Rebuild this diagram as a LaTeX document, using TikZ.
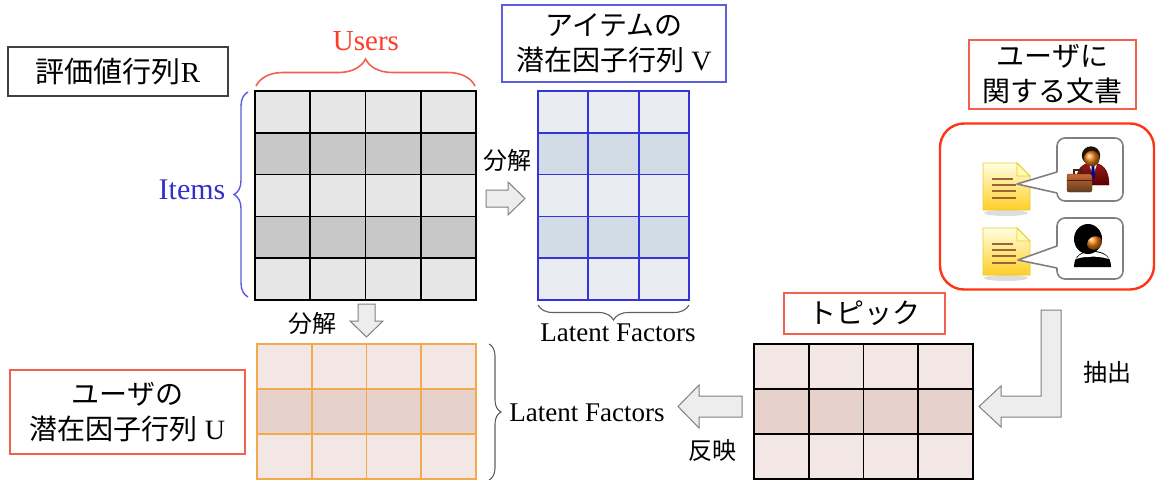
\documentclass[tikz,border=0pt]{standalone}
\usepackage{fontspec}
\setmainfont{Liberation Serif}
\newfontfamily\jp{Noto Sans CJK JP}
\usetikzlibrary{decorations.pathreplacing}

\definecolor{redtxt}{HTML}{FF3B2A}
\definecolor{redline}{HTML}{F2604E}
\definecolor{docred}{HTML}{FF3414}
\definecolor{bluetxt}{HTML}{3232C8}
\definecolor{blueline}{HTML}{3434D8}
\definecolor{bluebrace}{HTML}{5A5AE0}
\definecolor{vlight}{HTML}{E9EDF2}
\definecolor{vdark}{HTML}{D2DCE6}
\definecolor{rlight}{HTML}{E6E6E6}
\definecolor{rdark}{HTML}{C8C8C8}
\definecolor{plight}{HTML}{F3E7E5}
\definecolor{pdark}{HTML}{E7D1CB}
\definecolor{orangeline}{HTML}{F5A94E}
\definecolor{arrowfill}{HTML}{EDEDED}
\definecolor{arrowline}{HTML}{808080}
\definecolor{bracegray}{HTML}{5F5F5F}

% grid of cells: x0, y0, cell width, cell height, columns, rows, light, dark, line style
\newcommand\matgrid[9]{%
  \foreach \r in {1,...,#6}{%
    \ifodd\r \def\mcol{#7}\else \def\mcol{#8}\fi
    \fill[\mcol] ({#1},{#2+(\r-1)*#4}) rectangle ++({#5*#3},{#4});
  }
  \foreach \c in {0,...,#5}
    \draw[#9, line cap=rect] ({#1+\c*#3},{#2}) -- ++(0,{#6*#4});
  \foreach \r in {0,...,#6}
    \draw[#9, line cap=rect] ({#1},{#2+\r*#4}) -- ++({#5*#3},0);
}

% yellow document sheet, top-left corner at (#1,#2)
\newcommand\docsheet[2]{%
  \begin{scope}[shift={(#1,#2)}]
    \fill[gray!45, opacity=0.6] (23,50) ellipse [x radius=22, y radius=3];
    \shade[top color=yellow!12, bottom color=yellow!55!orange!85, draw=yellow!60!brown, line width=0.8]
      (0,0) -- (34,0) -- (47,13) -- (47,47) -- (0,47) -- cycle;
    \fill[yellow!30, draw=yellow!60!brown, line width=0.8] (34,0) -- (34,13) -- (47,13) -- cycle;
    \draw[brown!80!black, line width=1.6] (9,16) -- (30,16) (9,22) -- (33,22) (9,28) -- (33,28) (9,35) -- (33,35);
  \end{scope}}

% speech bubble: x0, y0, x1, y1, tip x, tip y, upper y, lower y
\newcommand\callout[8]{%
  \draw[arrowline, line width=1.6, fill=white, rounded corners=8] (#1,#2) rectangle (#3,#4);
  \fill[white] ({#1+1.5},#7) -- (#5,#6) -- ({#1+1.5},#8) -- cycle;
  \draw[arrowline, line width=1.6, line join=round] (#1,#7) -- (#5,#6) -- (#1,#8);
}

\begin{document}
\begin{tikzpicture}[x=1pt, y=-1pt,
  labelbox/.style={line width=1.3, inner sep=0, align=center, font=\fontsize{28}{35}\selectfont},
  serifl/.style={font=\fontsize{27}{32}\selectfont, inner sep=0},
  jpverb/.style={font=\jp\fontsize{24}{28}\selectfont, inner sep=0},
  blockarrow/.style={fill=arrowfill, draw=arrowline, line width=1, line join=miter},
  bracedeco/.style={decorate, decoration={brace, amplitude=#1}},
]
\useasboundingbox (0,0) rectangle (1156,479);

% ---------- rating matrix R ----------
\node[labelbox, draw=black!75, minimum width=220, minimum height=49] (rlab) at (118,71.5)
  {\fontsize{29}{35}\selectfont{\jp 評価値行列}R};
\coordinate (R) at (255,91);
\matgrid{255}{91}{55.25}{41.8}{4}{5}{rlight}{rdark}{black, line width=1.7}

% users brace and label
\draw[redline, line width=1.6, bracedeco=27] (256,86) -- (475,86);
\node[serifl, text=redtxt, font=\fontsize{29}{32}\selectfont] (users) at (366,41) {Users};

% items brace and label
\draw[bluebrace, line width=1.4, bracedeco=14] (248,297) -- (248,92);
\node[serifl, text=bluetxt, font=\fontsize{30}{32}\selectfont] (items) at (192,190) {Items};

% ---------- item factor matrix V ----------
\node[labelbox, draw=blueline!80, minimum width=224, minimum height=77] (vlab) at (614,43.5)
  {{\jp アイテムの}\\{\jp 潜在因子行列} V};
\coordinate (V) at (538,91);
\matgrid{538}{91}{50.33}{41.8}{3}{5}{vlight}{vdark}{blueline, line width=1.7}
\draw[bracegray, line width=1.1, bracedeco=15] (689,305) -- (538,305);
\node[serifl] (lfv) at (618,333) {Latent Factors};

% decomposition R -> V
\node[jpverb] (dec1) at (507,160) {分解};
\draw[blockarrow] (486,190) -- (508,190) -- (508,182) -- (525,198.5) -- (508,215) -- (508,207) -- (486,207) -- cycle;

% decomposition R -> U
\node[jpverb] (dec2) at (312,323) {分解};
\draw[blockarrow] (358,304) -- (375,304) -- (375,321) -- (383,321) -- (366.5,337) -- (350,321) -- (358,321) -- cycle;

% ---------- user factor matrix U ----------
\node[labelbox, draw=redline, minimum width=235, minimum height=84] (ulab) at (127.5,412)
  {{\jp ユーザの}\\{\jp 潜在因子行列} U};
\coordinate (U) at (257,344);
\matgrid{257}{344}{54.75}{45}{4}{3}{plight}{pdark}{orangeline, line width=1.7}
\draw[bracegray, line width=1.1, bracedeco=12] (489,344) -- (489,480);
\node[serifl] (lfu) at (587,413) {Latent Factors};

% ---------- topic matrix ----------
\node[labelbox, draw=redline, minimum width=161, minimum height=41] (tlab) at (864.5,313.5)
  {\jp トピック};
\coordinate (T) at (754,344);
\matgrid{754}{344}{54.75}{45}{4}{3}{plight}{pdark}{black, line width=1.7}

% reflect topics into U
\draw[blockarrow] (742,396) -- (699,396) -- (699,385) -- (678,406.5) -- (699,428) -- (699,417) -- (742,417) -- cycle;
\node[jpverb] (refl) at (712,450) {反映};

% extract topics from documents
\draw[blockarrow] (1041,310) -- (1061,310) -- (1061,417) -- (1001,417) -- (1001,427) -- (979,406.5)
  -- (1001,386) -- (1001,396) -- (1041,396) -- cycle;
\node[jpverb] (extr) at (1107,372) {抽出};

% ---------- user documents ----------
\node[labelbox, draw=redline, minimum width=167, minimum height=69] (dlab) at (1052.5,74.5)
  {{\jp ユーザに}\\{\jp 関する文書}};
\node[draw=docred, line width=2.4, rounded corners=24, minimum width=214, minimum height=166, inner sep=0] (docs) at (1047,206.5) {};

\docsheet{983}{163}
\docsheet{983}{228}
\callout{1057}{138}{1123}{201}{1017}{184}{172}{193}
\callout{1057}{218}{1123}{279}{1018}{260}{246}{268}

% businessman
\begin{scope}[shift={(1091,157)}]
  \shade[top color=red!55!black!90, bottom color=red!35!black, draw=red!30!black, line width=0.4]
    (-15,28) .. controls (-15,12) and (-9,6) .. (1,6) .. controls (11,6) and (18,12) .. (18,28) -- cycle;
  \fill[white] (-2,7) -- (6,7) -- (2,19) -- cycle;
  \fill[blue!55!black] (0.8,8) -- (3.2,8) -- (4,19) -- (2,23) -- (0,19) -- cycle;
  \fill[black!85!brown] (0,-1.5) circle (9.2);
  \shade[ball color=orange!70!brown] (0.8,1.6) circle (7.8);
  \draw[black!70!brown, line width=2] (-17,17) -- (-17,13) -- (-9,13) -- (-9,17);
  \shade[top color=brown!80!red, bottom color=brown!50!black, draw=brown!40!black, line width=0.4, rounded corners=2]
    (-24,17) rectangle (1,35);
  \draw[brown!30!black, line width=0.6] (-24,23) -- (1,23);
\end{scope}

% woman
\begin{scope}[shift={(1090,237)}]
  \fill[black] (-16,30) .. controls (-16,18) and (-8,14) .. (2,14) .. controls (14,14) and (21,19) .. (21,30) -- cycle;
  \fill[white] (-14,22) .. controls (-10,16) and (-4,15) .. (2,15) .. controls (10,15) and (16,17) .. (19,22)
    .. controls (12,20) and (4,19) .. (-2,20) .. controls (-7,20) and (-11,21) .. (-14,22) -- cycle;
  \fill[black] (-2,2) ellipse [x radius=14, y radius=15];
  \shade[ball color=orange!80!brown] (4,5) circle (7.8);
  \fill[black] (-10,6) .. controls (-10,-10) and (10,-13) .. (12,1) .. controls (6,-2) and (1,-1) .. (-2,3)
    -- (-5,16) -- cycle;
\end{scope}
\end{tikzpicture}
\end{document}
